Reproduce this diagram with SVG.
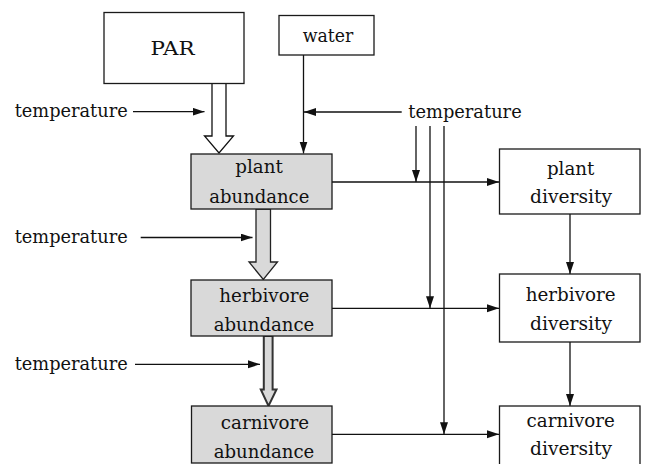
<svg xmlns="http://www.w3.org/2000/svg" width="645" height="464" viewBox="0 0 645 464">
<style>
  .box { fill: #ffffff; stroke: #1a1a1a; stroke-width: 1.3; }
  .gbox { fill: #d9d9d9; stroke: #1a1a1a; stroke-width: 1.3; }
  .t { font-family: 'DejaVu Serif', 'Liberation Serif', serif; font-size: 18px; fill: #111; }
  .m { text-anchor: middle; }
  .ln { fill: none; stroke: #111; stroke-width: 1.3; marker-end: url(#ah); }
</style>
<defs>
  <marker id="ah" markerUnits="userSpaceOnUse" markerWidth="13" markerHeight="9" refX="12" refY="4" orient="auto">
    <path d="M0,0 L12,4 L0,8 z" fill="#111"/>
  </marker>
</defs>
<rect width="645" height="464" fill="#ffffff"/>

<g id="connectors">
  <path class="ln" d="M133,111.7 H204.5"/>
  <path class="ln" d="M303.5,55 V153.5"/>
  <path class="ln" d="M401.7,112 H304"/>
  <path class="ln" d="M140.7,237.5 H252.5"/>
  <path class="ln" d="M135,364.3 H260"/>
  <path class="ln" d="M332,182 H499"/>
  <path class="ln" d="M332,308.3 H499"/>
  <path class="ln" d="M332,434.3 H499"/>
  <path class="ln" d="M416,126 V182"/>
  <path class="ln" d="M430,126 V308.3"/>
  <path class="ln" d="M444,126 V434.3"/>
  <path class="ln" d="M570,214 V274"/>
  <path class="ln" d="M570,342 V406"/>
  <polygon points="212,83 226,83 226,136 233.5,136 219,153 204.5,136 212,136" fill="#ffffff" stroke="#111" stroke-width="1.3"/>
  <polygon points="256,209 270.5,209 270.5,262 277.5,262 263.3,279.5 249,262 256,262" fill="#d9d9d9" stroke="#222" stroke-width="1.3"/>
  <polygon points="263.8,336 272.6,336 272.6,389.5 276.5,389.5 268.5,406 260.8,389.5 263.8,389.5" fill="#d9d9d9" stroke="#333" stroke-width="2"/>
</g>

<g id="par">
  <rect class="box" x="104" y="12.5" width="140" height="71"/>
  <text class="t m" x="172.5" y="55" textLength="44" lengthAdjust="spacingAndGlyphs">PAR</text>
</g>
<g id="water">
  <rect class="box" x="279" y="15.5" width="95" height="39.5"/>
  <text class="t m" x="328" y="41.7" textLength="50.5" lengthAdjust="spacingAndGlyphs">water</text>
</g>
<g id="temperature-1">
  <text class="t" x="14.7" y="117.3" textLength="113" lengthAdjust="spacingAndGlyphs">temperature</text>
</g>
<g id="temperature-2">
  <text class="t" x="408.3" y="117.8" textLength="113.4" lengthAdjust="spacingAndGlyphs">temperature</text>
</g>
<g id="temperature-3">
  <text class="t" x="14.7" y="243.2" textLength="113" lengthAdjust="spacingAndGlyphs">temperature</text>
</g>
<g id="temperature-4">
  <text class="t" x="14.7" y="370" textLength="113" lengthAdjust="spacingAndGlyphs">temperature</text>
</g>
<g id="plant-abundance">
  <rect class="gbox" x="191" y="154" width="141" height="55"/>
  <text class="t m" x="259" y="173.3" textLength="47.5" lengthAdjust="spacingAndGlyphs">plant</text>
  <text class="t m" x="259.3" y="202.5" textLength="100" lengthAdjust="spacingAndGlyphs">abundance</text>
</g>
<g id="herbivore-abundance">
  <rect class="gbox" x="191" y="280" width="141" height="56"/>
  <text class="t m" x="264.3" y="301.5" textLength="90" lengthAdjust="spacingAndGlyphs">herbivore</text>
  <text class="t m" x="264" y="331" textLength="100.5" lengthAdjust="spacingAndGlyphs">abundance</text>
</g>
<g id="carnivore-abundance">
  <rect class="gbox" x="191.5" y="406" width="140.5" height="57"/>
  <text class="t m" x="265" y="429" textLength="88.3" lengthAdjust="spacingAndGlyphs">carnivore</text>
  <text class="t m" x="264" y="458.3" textLength="100.5" lengthAdjust="spacingAndGlyphs">abundance</text>
</g>
<g id="plant-diversity">
  <rect class="box" x="499.5" y="149" width="140.5" height="65"/>
  <text class="t m" x="570.7" y="174.5" textLength="47.5" lengthAdjust="spacingAndGlyphs">plant</text>
  <text class="t m" x="571" y="203.3" textLength="82" lengthAdjust="spacingAndGlyphs">diversity</text>
</g>
<g id="herbivore-diversity">
  <rect class="box" x="499.5" y="274" width="140.5" height="68"/>
  <text class="t m" x="570.7" y="300.7" textLength="90" lengthAdjust="spacingAndGlyphs">herbivore</text>
  <text class="t m" x="571" y="330" textLength="82" lengthAdjust="spacingAndGlyphs">diversity</text>
</g>
<g id="carnivore-diversity">
  <rect class="box" x="499.5" y="406" width="140.5" height="66"/>
  <text class="t m" x="570.7" y="427.3" textLength="88.3" lengthAdjust="spacingAndGlyphs">carnivore</text>
  <text class="t m" x="571" y="455" textLength="82" lengthAdjust="spacingAndGlyphs">diversity</text>
</g>
</svg>
